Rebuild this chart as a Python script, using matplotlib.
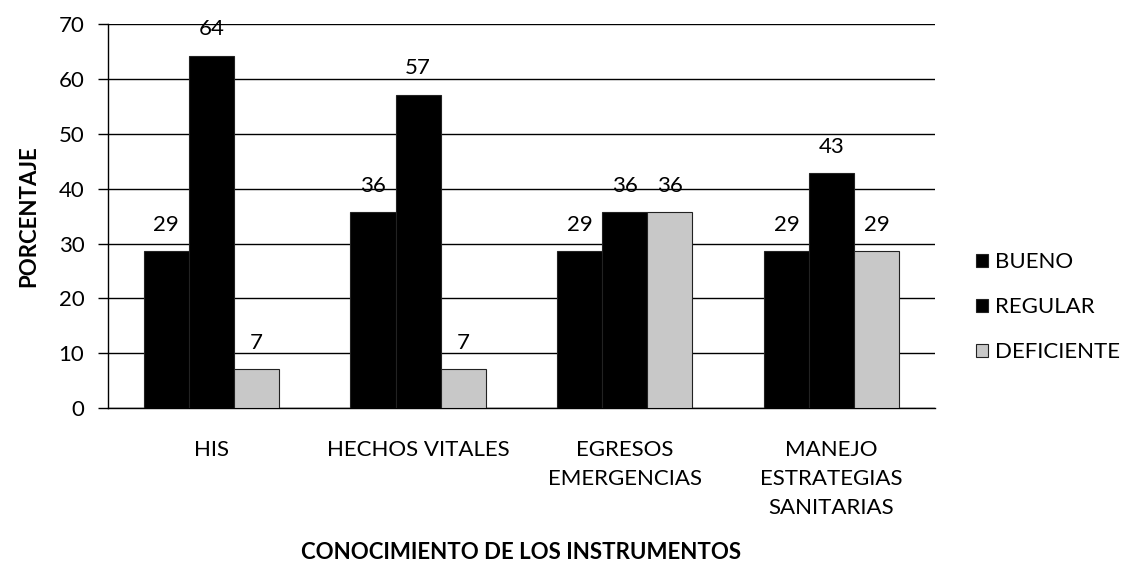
import matplotlib
matplotlib.use("Agg")
import matplotlib.pyplot as plt
import numpy as np

categories = ["HIS", "HECHOS VITALES", "EGRESOS\nEMERGENCIAS", "MANEJO\nESTRATEGIAS\nSANITARIAS"]
series_names = ["BUENO", "REGULAR", "DEFICIENTE"]
bueno = [28.57, 35.71, 28.57, 28.57]
regular = [64.29, 57.14, 35.71, 42.86]
deficiente = [7.14, 7.14, 35.71, 28.57]
labels_bueno = ["29", "36", "29", "29"]
labels_regular = ["64", "57", "36", "43"]
labels_deficiente = ["7", "7", "36", "29"]
y_ticks = [0, 10, 20, 30, 40, 50, 60, 70]

plt.rcParams['font.family'] = ['Lato', 'DejaVu Sans']
FS = 16

fig = plt.figure(figsize=(11.27, 5.78), dpi=100)
ax = fig.add_axes([0.0958, 0.294, 0.7338, 0.664])

x = np.arange(len(categories))
w = 0.218
series = [bueno, regular, deficiente]
labs = [labels_bueno, labels_regular, labels_deficiente]
faces = ["#000000", "#000000", "#c8c8c8"]
offsets = [-w, 0, w]
handles = []
for vals, lab, fc, off, name in zip(series, labs, faces, offsets, series_names):
    bars = ax.bar(x + off, vals, w, color=fc, edgecolor="#222222", linewidth=0.8,
                  label=name, zorder=3)
    handles.append(bars)
    for b, t in zip(bars, lab):
        ax.annotate(t, (b.get_x() + b.get_width() / 2, b.get_height()),
                    xytext=(0, 19), textcoords="offset points",
                    ha="center", va="center", fontsize=FS, zorder=4)

ax.set_xlim(-0.5, len(categories) - 0.5)
ax.set_ylim(0, 70)
ax.set_yticks(y_ticks)
ax.set_yticklabels([str(v) for v in y_ticks], fontsize=FS)
ax.set_xticks(x)
ax.set_xticklabels(categories, fontsize=FS, linespacing=1.55, va="top")
ax.tick_params(axis="x", length=0, pad=23)
ax.tick_params(axis="y", direction="out", length=7, width=1, pad=10)
ax.yaxis.grid(True, color="black", linewidth=1.0, zorder=0)
ax.set_axisbelow(True)
for s in ["top", "right"]:
    ax.spines[s].set_visible(False)
ax.spines["left"].set_linewidth(1.0)
ax.spines["bottom"].set_linewidth(1.0)

ax.set_ylabel("PORCENTAJE", fontsize=FS, fontweight="bold", labelpad=14)
fig.text(0.4627, 0.044, "CONOCIMIENTO DE LOS INSTRUMENTOS", fontsize=FS,
         fontweight="bold", ha="center", va="center")

leg = fig.legend(handles=handles, labels=series_names, loc="upper left",
                 bbox_to_anchor=(0.848, 0.598), frameon=False, fontsize=FS,
                 handlelength=0.55, handleheight=0.55, handletextpad=0.3,
                 labelspacing=1.12)

fig.savefig("out.png", dpi=100)
